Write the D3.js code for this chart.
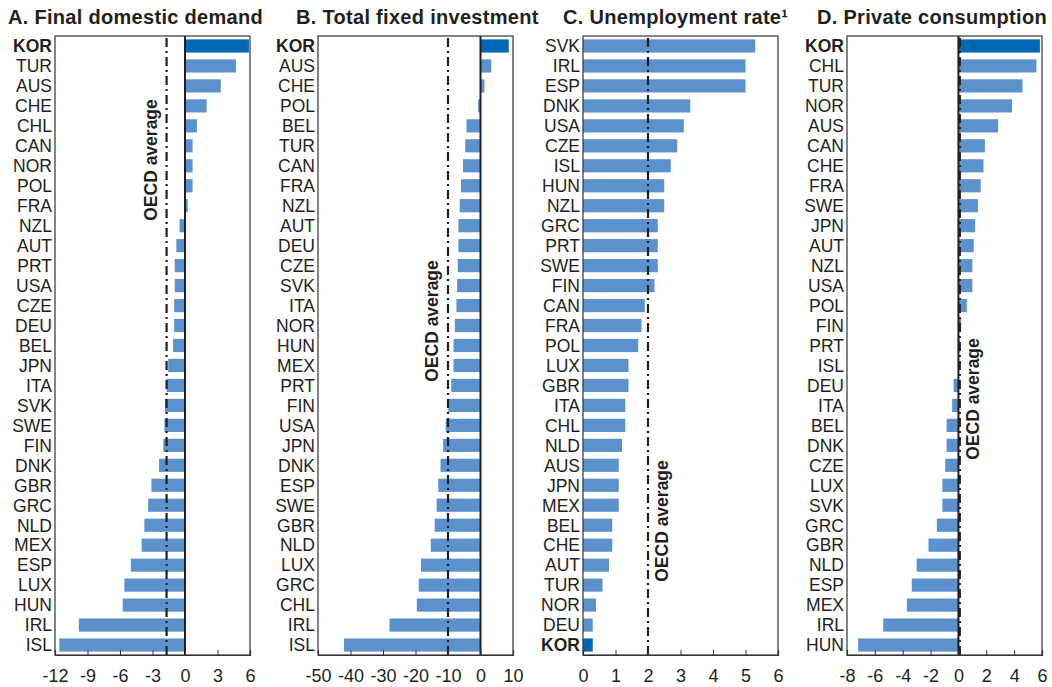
<!DOCTYPE html>
<html>
<head>
<meta charset="utf-8">
<script src="https://cdn.jsdelivr.net/npm/d3@7"></script>
<style>
  html, body { margin: 0; padding: 0; background: #fff; }
  svg { display: block; font-family: "Liberation Sans", Arial, sans-serif; }
</style>
</head>
<body>
<svg id="chart" width="1052" height="687"></svg>
<script>
// Panel A: final domestic demand
const demandCountries = ["KOR","TUR","AUS","CHE","CHL","CAN","NOR","POL","FRA","NZL","AUT","PRT","USA","CZE","DEU","BEL","JPN","ITA","SVK","SWE","FIN","DNK","GBR","GRC","NLD","MEX","ESP","LUX","HUN","IRL","ISL"];
const demandValues = [5.9,4.7,3.3,2.0,1.1,0.7,0.7,0.7,0.25,-0.5,-0.8,-0.95,-0.95,-1.0,-1.0,-1.1,-1.55,-1.7,-1.85,-1.9,-2.0,-2.4,-3.1,-3.4,-3.75,-4.0,-5.0,-5.6,-5.75,-9.8,-11.6];
const demandAverage = -1.7;
const demandTicks = [-12,-9,-6,-3,0,3,6];

// Panel B: total fixed investment
const investCountries = ["KOR","AUS","CHE","POL","BEL","TUR","CAN","FRA","NZL","AUT","DEU","CZE","SVK","ITA","NOR","HUN","MEX","PRT","FIN","USA","JPN","DNK","ESP","SWE","GBR","NLD","LUX","GRC","CHL","IRL","ISL"];
const investValues = [8.7,3.3,1.2,-0.7,-4.3,-4.7,-5.4,-6.0,-6.4,-6.8,-6.8,-7.0,-7.2,-7.4,-7.9,-8.3,-8.3,-9.0,-9.9,-10.7,-11.5,-12.3,-13.0,-13.5,-14.1,-15.3,-18.3,-19.0,-19.6,-28.0,-42.0];
const investAverage = -10;
const investTicks = [-50,-40,-30,-20,-10,0,10];

// Panel C: unemployment rate
const unempCountries = ["SVK","IRL","ESP","DNK","USA","CZE","ISL","HUN","NZL","GRC","PRT","SWE","FIN","CAN","FRA","POL","LUX","GBR","ITA","CHL","NLD","AUS","JPN","MEX","BEL","CHE","AUT","TUR","NOR","DEU","KOR"];
const unempValues = [5.3,5.0,5.0,3.3,3.1,2.9,2.7,2.5,2.5,2.3,2.3,2.3,2.2,1.9,1.8,1.7,1.4,1.4,1.3,1.3,1.2,1.1,1.1,1.1,0.9,0.9,0.8,0.6,0.4,0.3,0.3];
const unempAverage = 2.0;
const unempTicks = [0,1,2,3,4,5,6];

// Panel D: private consumption
const consCountries = ["KOR","CHL","TUR","NOR","AUS","CAN","CHE","FRA","SWE","JPN","AUT","NZL","USA","POL","FIN","PRT","ISL","DEU","ITA","BEL","DNK","CZE","LUX","SVK","GRC","GBR","NLD","ESP","MEX","IRL","HUN"];
const consValues = [5.85,5.6,4.6,3.85,2.85,1.9,1.8,1.6,1.4,1.2,1.1,1.0,1.0,0.6,0.2,0.1,0.0,-0.35,-0.45,-0.85,-0.85,-0.95,-1.15,-1.15,-1.55,-2.15,-3.0,-3.35,-3.7,-5.4,-7.2];
const consAverage = 0.1;
const consTicks = [-8,-6,-4,-2,0,2,4,6];

const panelTitles = ["A. Final domestic demand","B. Total fixed investment","C. Unemployment rate\u00b9","D. Private consumption"];
const highlight = "KOR";

const panels = [
  { title: panelTitles[0], cats: demandCountries, vals: demandValues, avg: demandAverage, ticks: demandTicks,
    left: 55, titleX: 8, label: { dx: -16, cy: 160 } },
  { title: panelTitles[1], cats: investCountries, vals: investValues, avg: investAverage, ticks: investTicks,
    left: 318, titleX: 296, label: { dx: -16, cy: 321 } },
  { title: panelTitles[2], cats: unempCountries, vals: unempValues, avg: unempAverage, ticks: unempTicks,
    left: 583, titleX: 563, label: { dx: 14, cy: 521 } },
  { title: panelTitles[3], cats: consCountries, vals: consValues, avg: consAverage, ticks: consTicks,
    left: 847, titleX: 817, label: { dx: 13, cy: 399 } }
];

const svg = d3.select("#chart");
const plotTop = 36, plotBottom = 655, plotWidth = 195;
const barColor = "#5b92cd", hiColor = "#0068b4", ink = "#231f20";

panels.forEach(p => {
  const g = svg.append("g");
  const x = d3.scaleLinear()
    .domain([p.ticks[0], p.ticks[p.ticks.length - 1]])
    .range([p.left, p.left + plotWidth]);
  const y = d3.scaleBand().domain(p.cats).range([plotTop, plotBottom]).paddingInner(0.34).paddingOuter(0.17);

  // title
  g.append("text").attr("x", p.titleX).attr("y", 24)
    .attr("font-size", 20).attr("font-weight", "bold").attr("letter-spacing", 0.3).attr("fill", ink)
    .text(p.title);

  // bars
  g.selectAll("rect.bar").data(p.cats).join("rect")
    .attr("class", "bar")
    .attr("x", (c, i) => x(Math.min(0, p.vals[i])))
    .attr("width", (c, i) => Math.abs(x(p.vals[i]) - x(0)))
    .attr("y", c => y(c))
    .attr("height", y.bandwidth())
    .attr("fill", c => c === highlight ? hiColor : barColor);

  // category labels
  g.selectAll("text.cat").data(p.cats).join("text")
    .attr("class", "cat")
    .attr("x", p.left - 3)
    .attr("y", c => y(c) + y.bandwidth() / 2)
    .attr("dy", "0.36em")
    .attr("text-anchor", "end")
    .attr("font-size", 17.5)
    .attr("font-weight", c => c === highlight ? "bold" : "normal")
    .attr("fill", ink)
    .text(c => c);

  // zero line
  if (p.ticks[0] < 0) {
    g.append("line").attr("x1", x(0)).attr("x2", x(0)).attr("y1", plotTop).attr("y2", plotBottom)
      .attr("stroke", ink).attr("stroke-width", 2);
  }

  // OECD average line
  g.append("line").attr("x1", x(p.avg)).attr("x2", x(p.avg)).attr("y1", plotTop + 2).attr("y2", plotBottom)
    .attr("stroke", ink).attr("stroke-width", 2.2).attr("stroke-dasharray", "9,4,2,4");

  g.append("text")
    .attr("transform", `translate(${x(p.avg) + p.label.dx},${p.label.cy}) rotate(-90)`)
    .attr("text-anchor", "middle").attr("dy", "0.35em")
    .attr("font-size", 17.5).attr("font-weight", "bold").attr("fill", ink)
    .text("OECD average");

  // frame
  g.append("rect").attr("x", p.left).attr("y", plotTop).attr("width", plotWidth).attr("height", plotBottom - plotTop)
    .attr("fill", "none").attr("stroke", "#333").attr("stroke-width", 1.2);

  // bottom axis with inward ticks
  const axis = g.append("g").attr("transform", `translate(0,${plotBottom})`)
    .call(d3.axisBottom(x).tickValues(p.ticks).tickSize(-5).tickPadding(14).tickFormat(d => String(d)));
  axis.select(".domain").attr("stroke", "#333").attr("stroke-width", 1.2);
  axis.selectAll(".tick line").attr("stroke", "#333");
  axis.selectAll(".tick text").attr("font-size", 18).attr("fill", ink)
    .attr("font-family", "'Liberation Sans', Arial, sans-serif")
    .attr("dy", "0.71em");
});
</script>
</body>
</html>
